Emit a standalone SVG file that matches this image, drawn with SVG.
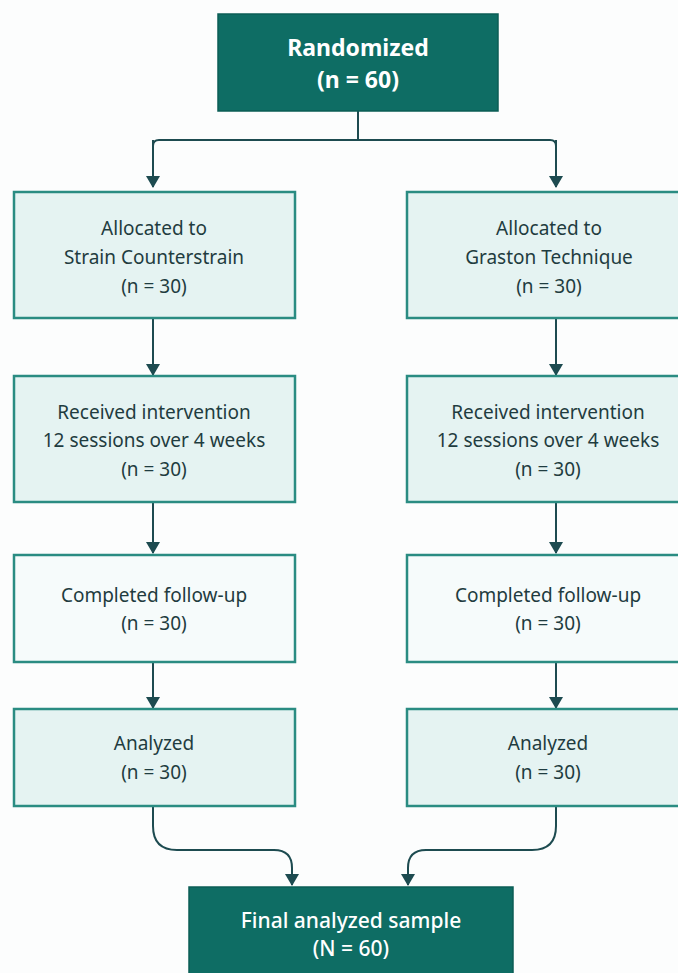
<svg xmlns="http://www.w3.org/2000/svg" width="678" height="973" viewBox="0 0 678 973">
<defs>
<marker id="ah" markerWidth="14" markerHeight="14" refX="11" refY="7" orient="auto" markerUnits="userSpaceOnUse">
<path d="M0,0 L12,7 L0,14 Z" fill="#1d4b50"/>
</marker>
<style>
.dark{fill:#0e6d64;stroke:#0b5d55;stroke-width:1.5}
.lite{fill:#e5f3f2;stroke:#2a8c82;stroke-width:2.5}
.pale{fill:#f6fbfb;stroke:#2a8c82;stroke-width:2.5}
.tw{font-family:"Noto Sans","Open Sans","DejaVu Sans",sans-serif;fill:#ffffff;text-anchor:middle}
.td{font-family:"Noto Sans","Open Sans","DejaVu Sans",sans-serif;fill:#1f3c40;text-anchor:middle;font-size:19px}
.conn{fill:none;stroke:#1d4b50;stroke-width:2}
</style>
</defs>
<rect width="678" height="973" fill="#fcfdfd"/>
<g id="connectors">
<path class="conn" d="M358,111 V140 M153,187 V146 Q153,140 159,140 H550 Q556,140 556,146 V187" />
<path class="conn" d="M153,140 V187" marker-end="url(#ah)"/>
<path class="conn" d="M556,140 V187" marker-end="url(#ah)"/>
<path class="conn" d="M153,318 V375" marker-end="url(#ah)"/>
<path class="conn" d="M556,318 V375" marker-end="url(#ah)"/>
<path class="conn" d="M153,502 V553" marker-end="url(#ah)"/>
<path class="conn" d="M556,502 V553" marker-end="url(#ah)"/>
<path class="conn" d="M153,662 V708" marker-end="url(#ah)"/>
<path class="conn" d="M556,662 V708" marker-end="url(#ah)"/>
<path class="conn" d="M153,806 V826 Q153,850 177,850 H274 Q292,850 292,868 V885" marker-end="url(#ah)"/>
<path class="conn" d="M556,806 V826 Q556,850 532,850 H426 Q408,850 408,868 V885" marker-end="url(#ah)"/>
</g>
<g id="randomized">
<rect class="dark" x="218" y="14" width="280" height="97"/>
<text class="tw" x="358" y="56" font-size="23" font-weight="bold">Randomized</text>
<text class="tw" x="358" y="88" font-size="23" font-weight="bold">(n = 60)</text>
</g>
<g id="alloc-scs">
<rect class="lite" x="14" y="192" width="281" height="126"/>
<text class="td" x="154" y="235">Allocated to</text>
<text class="td" x="154" y="264">Strain Counterstrain</text>
<text class="td" x="154" y="293">(n = 30)</text>
</g>
<g id="alloc-gt">
<rect class="lite" x="407" y="192" width="281" height="126"/>
<text class="td" x="549" y="235">Allocated to</text>
<text class="td" x="549" y="264">Graston Technique</text>
<text class="td" x="549" y="293">(n = 30)</text>
</g>
<g id="recv-scs">
<rect class="lite" x="14" y="376" width="281" height="126"/>
<text class="td" x="154" y="419">Received intervention</text>
<text class="td" x="154" y="447">12 sessions over 4 weeks</text>
<text class="td" x="154" y="476">(n = 30)</text>
</g>
<g id="recv-gt">
<rect class="lite" x="407" y="376" width="281" height="126"/>
<text class="td" x="548" y="419">Received intervention</text>
<text class="td" x="548" y="447">12 sessions over 4 weeks</text>
<text class="td" x="548" y="476">(n = 30)</text>
</g>
<g id="follow-scs">
<rect class="pale" x="14" y="555" width="281" height="107"/>
<text class="td" x="154" y="602">Completed follow-up</text>
<text class="td" x="154" y="630">(n = 30)</text>
</g>
<g id="follow-gt">
<rect class="pale" x="407" y="555" width="281" height="107"/>
<text class="td" x="548" y="602">Completed follow-up</text>
<text class="td" x="548" y="630">(n = 30)</text>
</g>
<g id="anal-scs">
<rect class="lite" x="14" y="709" width="281" height="97"/>
<text class="td" x="154" y="750">Analyzed</text>
<text class="td" x="154" y="779">(n = 30)</text>
</g>
<g id="anal-gt">
<rect class="lite" x="407" y="709" width="281" height="97"/>
<text class="td" x="548" y="750">Analyzed</text>
<text class="td" x="548" y="779">(n = 30)</text>
</g>
<g id="final">
<rect class="dark" x="189" y="887" width="324" height="100"/>
<text class="tw" x="351" y="928" font-size="21" font-weight="500">Final analyzed sample</text>
<text class="tw" x="351" y="956" font-size="21" font-weight="500">(N = 60)</text>
</g>
</svg>
